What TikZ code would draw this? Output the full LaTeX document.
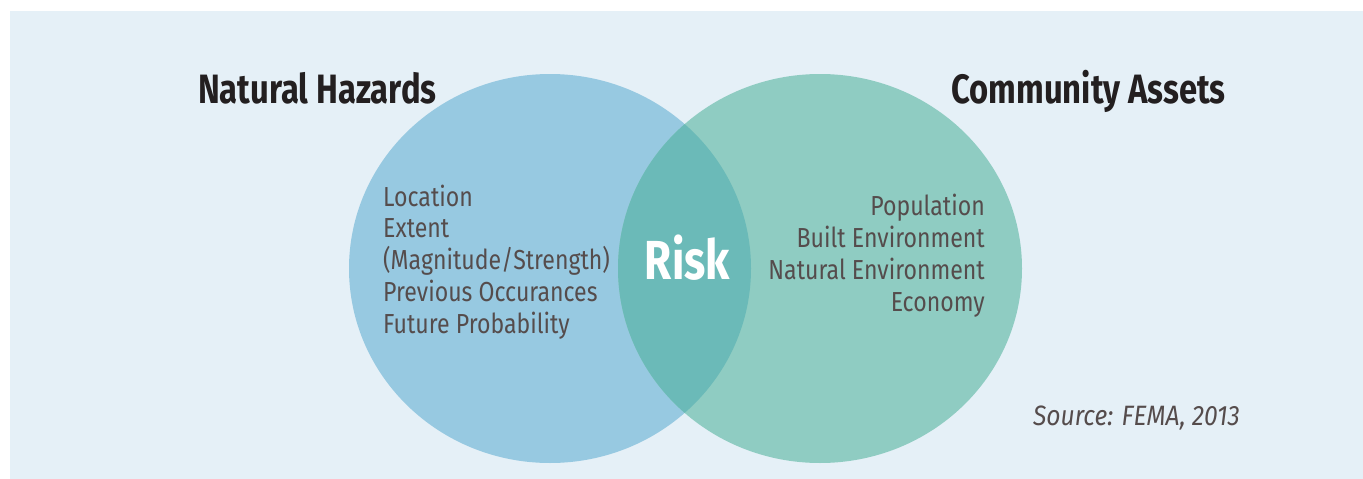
\documentclass[tikz,border=0pt]{standalone}
\usepackage{fontspec}
\setmainfont[FakeStretch=0.84]{Fira Sans}
\newfontfamily\titlefont[FakeStretch=0.8]{Fira Sans}
\newfontfamily\riskfont[FakeStretch=0.8]{Fira Sans}
\newfontfamily\sourcefont[FakeStretch=0.88]{Fira Sans}
\definecolor{bgblue}{HTML}{E5F0F7}
\definecolor{hazblue}{HTML}{97C9E1}
\definecolor{assetgreen}{HTML}{8FCCC2}
\definecolor{riskteal}{HTML}{6BBAB8}
\definecolor{listgrey}{HTML}{554C4C}
\definecolor{titledark}{HTML}{231F20}
\tikzset{
  titletext/.style={inner sep=0pt, text=titledark, font=\titlefont\bfseries\fontsize{41}{45}\selectfont},
  listtext/.style={inner sep=0pt, text=listgrey, font=\fontsize{27.5}{32}\selectfont},
  risktext/.style={inner sep=0pt, text=white, font=\riskfont\bfseries\fontsize{55}{60}\selectfont},
  sourcetext/.style={inner sep=0pt, text=listgrey, font=\sourcefont\itshape\fontsize{28}{32}\selectfont},
}
\begin{document}
\begin{tikzpicture}[x=1pt,y=-1pt]
\useasboundingbox (0,0) rectangle (1363,479);
\fill[white] (0,0) rectangle (1363,479);
\fill[bgblue] (10,11) rectangle (1363,479);
\coordinate (lc) at (550,268.5);
\coordinate (rc) at (820,268.5);
\fill[hazblue] (lc) ellipse [x radius=201, y radius=194.5];
\fill[assetgreen] (rc) ellipse [x radius=202, y radius=194.5];
\begin{scope}
\clip (lc) ellipse [x radius=201, y radius=194.5];
\fill[riskteal] (rc) ellipse [x radius=202, y radius=194.5];
\end{scope}
\node[titletext, anchor=base west] (haz) at (198,103) {Natural Hazards};
\node[titletext, anchor=base east] (assets) at (1226,103) {Community Assets};
\node[risktext, anchor=base] (risk) at (687.5,279) {Risk};
\node[listtext, anchor=base west] (h1) at (383,206) {Location};
\node[listtext, anchor=base west] (h2) at (383,237.5) {Extent};
\node[listtext, anchor=base west] (h3) at (383,269.5) {(Magnitude/Strength)};
\node[listtext, anchor=base west] (h4) at (383,301.5) {Previous Occurances};
\node[listtext, anchor=base west] (h5) at (383,333) {Future Probability};
\node[listtext, anchor=base east] (a1) at (985,215) {Population};
\node[listtext, anchor=base east] (a2) at (985,247) {Built Environment};
\node[listtext, anchor=base east] (a3) at (985,279) {Natural Environment};
\node[listtext, anchor=base east] (a4) at (985,311) {Economy};
\node[sourcetext, anchor=base east] (src) at (1240,425) {Source: FEMA, 2013};
\end{tikzpicture}
\end{document}
